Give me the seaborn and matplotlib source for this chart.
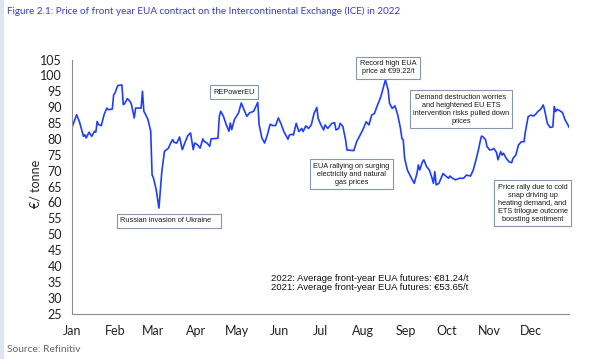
import numpy as np
import pandas as pd
import matplotlib
matplotlib.use('Agg')
import matplotlib.pyplot as plt
from matplotlib.patches import Rectangle
import seaborn as sns

# day of year (0 = 1 Jan 2022) and front-year EUA price
day = [0, 3, 5, 8, 9, 10, 12, 14, 16, 17, 18, 19, 21, 23, 25, 26, 29, 30, 31, 33,
       36, 37, 38, 40, 42, 43, 45, 46, 50, 51, 52, 53, 55, 57, 58, 59, 61, 63, 65, 67,
       70, 71, 73, 74, 76, 78, 80, 82, 84, 86, 88, 89, 91, 93, 95, 96, 98, 100, 101, 106,
       107, 108, 110, 112, 114, 115, 116, 118, 121, 123, 125, 127, 129, 132, 135, 136, 138, 140, 142, 144,
       146, 148, 150, 152, 154, 157, 158, 160, 161, 163, 165, 167, 168, 170, 172, 174, 176, 178, 179, 181,
       183, 184, 186, 189, 191, 192, 194, 195, 197, 199, 200, 205, 207, 209, 212, 214, 216, 218, 220, 222,
       224, 225, 228, 230, 231, 233, 235, 237, 239, 240, 241, 242, 244, 247, 249, 251, 252, 253, 255, 256,
       258, 260, 262, 263, 264, 265, 267, 270, 272, 274, 275, 277, 279, 282, 285, 287, 290, 292, 294, 296,
       297, 298, 299, 301, 302, 304, 306, 307, 309, 310, 312, 313, 314, 316, 318, 320, 321, 323, 325, 327,
       329, 330, 332, 334, 336, 338, 339, 341, 343, 344, 346, 348, 350, 351, 352, 353, 355, 357, 359, 361,
       362]
price = [84.0, 87.6, 85.5, 80.8, 81.3, 80.3, 82.1, 80.8, 82.4, 82.1, 85.5, 84.5, 84.2, 87.6, 89.7, 89.2, 89.4, 93.9, 94.5, 96.8,
         97.0, 90.8, 91.1, 92.7, 91.8, 90.8, 86.6, 89.7, 89.7, 95.0, 88.7, 87.9, 86.1, 82.4, 68.7, 67.7, 64.0, 58.2, 69.3, 76.1,
         77.1, 78.2, 79.8, 78.9, 78.7, 80.6, 76.6, 78.9, 81.0, 81.9, 76.6, 78.7, 78.2, 77.1, 80.0, 79.2, 78.7, 77.7, 80.0, 80.2,
         87.1, 88.7, 87.1, 84.5, 82.4, 85.0, 82.9, 86.1, 88.2, 91.3, 89.2, 87.1, 88.2, 88.7, 91.5, 84.5, 80.3, 78.7, 81.3, 84.6,
         84.2, 84.2, 86.6, 84.7, 82.3, 79.9, 81.2, 81.5, 81.2, 84.9, 82.3, 83.3, 82.3, 84.1, 83.3, 84.4, 88.0, 89.9, 86.5, 84.4,
         82.8, 84.4, 83.3, 84.9, 85.1, 82.8, 83.3, 84.9, 83.9, 79.7, 76.5, 76.3, 79.1, 80.7, 83.3, 85.4, 84.4, 87.5, 88.0, 90.4,
         92.5, 93.8, 98.6, 95.4, 91.2, 89.6, 90.4, 87.5, 83.3, 80.2, 79.7, 73.9, 70.2, 67.6, 66.0, 69.1, 71.8, 70.2, 72.8, 73.4,
         71.3, 70.2, 67.6, 66.0, 69.7, 65.5, 66.0, 69.1, 68.3, 67.6, 68.3, 67.6, 67.1, 67.6, 67.6, 68.6, 68.3, 70.2, 73.4, 77.0,
         79.1, 80.9, 80.7, 79.7, 77.6, 76.5, 76.7, 77.0, 75.7, 73.4, 76.0, 74.9, 75.5, 73.9, 72.8, 72.5, 73.9, 74.9, 78.1, 79.1,
         79.1, 82.3, 87.0, 87.5, 87.2, 88.0, 88.6, 89.3, 90.7, 89.1, 84.9, 83.6, 83.8, 90.2, 88.6, 89.3, 88.9, 88.3, 85.9, 84.4,
         83.5]

month_labels = ['Jan', 'Feb', 'Mar', 'Apr', 'May', 'Jun', 'Jul', 'Aug', 'Sep', 'Oct', 'Nov', 'Dec']
y_ticks = list(range(25, 106, 5))

notes = [
    ('Russian invasion of Ukraine   ', 0.194, 0.365),
    ('REPowerEU', 0.325, 0.872),
    ('Record high EUA\nprice at €99.22/t', 0.635, 0.967),
    ('EUA rallying on surging\nelectricity and natural\ngas prices', 0.561, 0.549),
    ('Demand destruction worries\nand heightened EU ETS\nintervention risks pulled down\nprices', 0.782, 0.804),
    ('Price rally due to cold\nsnap driving up\nheating demand, and\nETS trilogue outcome\nboosting sentiment', 0.926, 0.435),
]
avg_text = ('2022: Average front-year EUA futures: €81.24/t\n'
            '2021: Average front-year EUA futures: €53.65/t')

dates = pd.Timestamp('2022-01-01') + pd.to_timedelta(day, unit='D')
df = pd.DataFrame({'date': dates, 'price': price})

sns.set_style('white')
plt.rcParams['font.family'] = ['Lato', 'DejaVu Sans']

fig = plt.figure(figsize=(6.02, 3.59), dpi=100)
fig.patches.append(Rectangle((0, 0), 3 / 602, 1, transform=fig.transFigure,
                             color='#dce6f1', zorder=0))

ax = fig.add_axes([0.1204, 0.1267, 0.8253, 0.7075])
sns.lineplot(data=df, x='date', y='price', ax=ax, color='#1f3dff', lw=1.2)

ax.set_xlim(pd.Timestamp('2022-01-01'), pd.Timestamp('2022-12-29'))
ax.set_ylim(25, 105)
ax.set_yticks(y_ticks)
ax.set_xticks(pd.date_range('2022-01-01', periods=12, freq='MS'))
ax.set_xticklabels(month_labels)
ax.set_xlabel('')
ax.set_ylabel('€/ tonne', fontsize=9)
ax.yaxis.set_label_coords(-0.063, 0.51)

for s in ['top', 'right']:
    ax.spines[s].set_visible(False)
for s in ['left', 'bottom']:
    ax.spines[s].set_color('#8c8c8c')
    ax.spines[s].set_linewidth(0.8)
ax.tick_params(axis='both', which='major', direction='out', length=3.5, width=0.8,
               color='#8c8c8c', labelsize=9, labelcolor='#222222')
ax.tick_params(axis='x', pad=5)
ax.tick_params(axis='y', pad=4)

box = dict(boxstyle='square,pad=0.45', fc='white', ec='#8596b3', lw=0.8)
for txt, fx, fy in notes:
    ax.text(fx, fy, txt, transform=ax.transAxes, ha='center', va='center',
            fontsize=5.3, family='Liberation Sans', color='#1a1a1a',
            linespacing=1.2, bbox=box, zorder=5)

ax.text(0.399, 0.12, avg_text, transform=ax.transAxes, ha='left', va='center',
        fontsize=6.8, family='Liberation Sans', color='#111111', linespacing=1.05)

fig.text(7 / 602, 1 - 11 / 359,
         'Figure 2.1: Price of front year EUA contract on the Intercontinental Exchange (ICE) in 2022',
         color='#3a3ad6', fontsize=7.1, ha='left', va='center')
fig.text(7 / 602, 1 - 349 / 359, 'Source: Refinitiv', color='#666666', fontsize=7.4,
         ha='left', va='center')

fig.savefig('out.png', dpi=100)
